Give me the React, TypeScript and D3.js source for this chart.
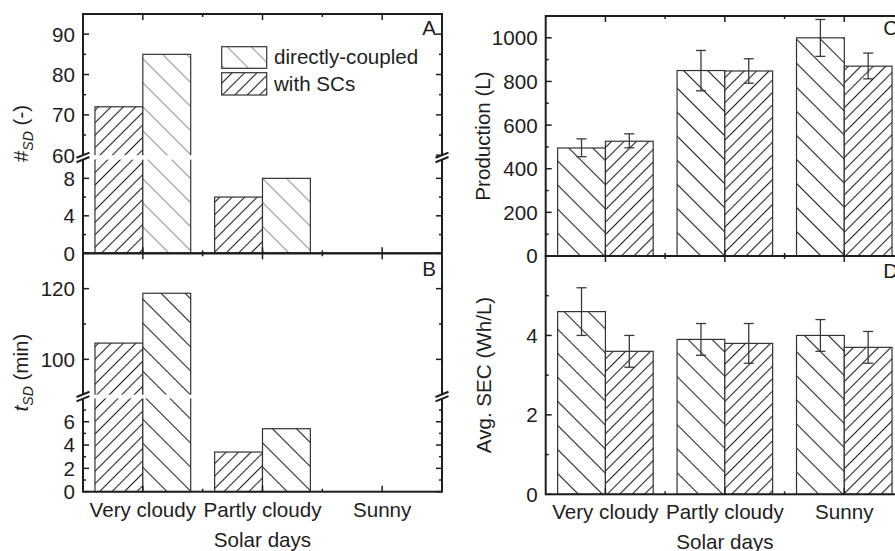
import React from "react";
import * as d3 from "d3";

const categories = ["Very cloudy", "Partly cloudy", "Sunny"];
// Panel A: number of shutdowns
const countSC = [72, 6, 0];
const countDC = [85, 8, 0];
// Panel B: shutdown time (min)
const timeSC = [104.6, 3.4, 0];
const timeDC = [118.7, 5.4, 0];
// Panel C: production (L)
const prodDC = [495, 850, 1000];
const prodDCLow = [455, 757, 915];
const prodDCHigh = [537, 942, 1084];
const prodSC = [526, 848, 870];
const prodSCLow = [496, 792, 812];
const prodSCHigh = [560, 904, 930];
// Panel D: SEC (Wh/L)
const secDC = [4.6, 3.9, 4.0];
const secDCLow = [4.0, 3.5, 3.6];
const secDCHigh = [5.2, 4.3, 4.4];
const secSC = [3.6, 3.8, 3.7];
const secSCLow = [3.2, 3.3, 3.3];
const secSCHigh = [4.0, 4.3, 4.1];

const ticksAUpper = [60, 70, 80, 90];
const minorAUpper = [65, 75, 85, 95];
const ticksALower = [0, 4, 8];
const minorALower = [2, 6];
const ticksBUpper = [100, 120];
const minorBUpper = [110, 130];
const ticksBLower = [0, 2, 4, 6];
const minorBLower = [1, 3, 5, 7];
const ticksC = [0, 200, 400, 600, 800, 1000];
const minorC = [100, 300, 500, 700, 900, 1100];
const ticksD = [0, 2, 4];
const minorD = [1, 3, 5];

const FONT = "'Liberation Sans', Arial, Helvetica, sans-serif";
const INK = "#1e1e1e";
const FS = 20.6;

type Series = {
  values: number[];
  low?: number[];
  high?: number[];
  fill: string;
};

type Seg = { scale: d3.ScaleLinear<number, number>; major: number[]; minor: number[]; max: number };

function Panel(props: {
  x0: number;
  x1: number;
  top: number;
  bottom: number;
  lower: Seg;
  upper?: Seg;
  series: Series[];
  letter: string;
  letterY: number;
}) {
  const { x0, x1, top, bottom, lower, upper, series, letter, letterY } = props;
  const xs = d3.scaleLinear().domain([0.5, 3.5]).range([x0, x1]);
  const y = (v: number) => (upper && v > lower.max ? upper.scale(v) : lower.scale(v));
  const bw = 0.4;
  const els: React.ReactNode[] = [];

  // bars
  series.forEach((s, si) => {
    s.values.forEach((v, i) => {
      const c = i + 1;
      const xa = si === 0 ? xs(c - bw) : xs(c);
      const xb = si === 0 ? xs(c) : xs(c + bw);
      const yv = y(v);
      const y0 = lower.scale(0);
      if (v <= 0) return;
      els.push(
        <g key={`b${si}-${i}`}>
          <rect x={xa} y={yv} width={xb - xa} height={y0 - yv} fill="#fff" />
          <rect x={xa} y={yv} width={xb - xa} height={y0 - yv} fill={s.fill} stroke="#333" strokeWidth={1.2} />
        </g>
      );
    });
  });

  // gap for broken axis
  let gapTop = 0, gapBot = 0;
  if (upper) {
    gapTop = upper.scale(upper.scale.domain()[0]);
    gapBot = lower.scale(lower.max);
    els.push(<rect key="gap" x={x0 + 1} y={gapTop} width={x1 - x0 - 2} height={gapBot - gapTop} fill="#fff" />);
  }

  // error bars
  series.forEach((s, si) => {
    if (!s.low || !s.high) return;
    s.values.forEach((v, i) => {
      const c = i + 1;
      const xc = si === 0 ? xs(c - bw / 2) : xs(c + bw / 2);
      const yl = y(s.low![i]);
      const yh = y(s.high![i]);
      els.push(
        <g key={`e${si}-${i}`} stroke="#3a3a3a" strokeWidth={1.3}>
          <line x1={xc} x2={xc} y1={yl} y2={yh} />
          <line x1={xc - 5} x2={xc + 5} y1={yl} y2={yl} />
          <line x1={xc - 5} x2={xc + 5} y1={yh} y2={yh} />
        </g>
      );
    });
  });

  // frame
  els.push(<rect key="frame" x={x0} y={top} width={x1 - x0} height={bottom - top} fill="none" stroke={INK} strokeWidth={2} />);

  // y ticks
  const segs = upper ? [lower, upper] : [lower];
  segs.forEach((sg, k) => {
    sg.major.forEach((t) => {
      const yy = sg.scale(t);
      els.push(
        <g key={`ym${k}-${t}`} stroke={INK} strokeWidth={1.5}>
          <line x1={x0} x2={x0 + 6} y1={yy} y2={yy} />
          <line x1={x1} x2={x1 - 6} y1={yy} y2={yy} />
        </g>
      );
      els.push(
        <text key={`yl${k}-${t}`} x={x0 - 8} y={yy} dy="0.36em" textAnchor="end" fontSize={FS} fill={INK}>
          {t}
        </text>
      );
    });
    sg.minor.forEach((t) => {
      const yy = sg.scale(t);
      els.push(
        <g key={`yn${k}-${t}`} stroke={INK} strokeWidth={1.5}>
          <line x1={x0} x2={x0 + 3} y1={yy} y2={yy} />
          <line x1={x1} x2={x1 - 3} y1={yy} y2={yy} />
        </g>
      );
    });
  });

  // x ticks (top and bottom, inward)
  [1, 2, 3, 1.5, 2.5].forEach((t) => {
    const len = Number.isInteger(t) ? 6 : 3;
    const xx = xs(t);
    els.push(
      <g key={`xt${t}`} stroke={INK} strokeWidth={1.5}>
        <line x1={xx} x2={xx} y1={top} y2={top + len} />
        <line x1={xx} x2={xx} y1={bottom} y2={bottom - len} />
      </g>
    );
  });

  // break marks
  if (upper) {
    const yc = (gapTop + gapBot) / 2;
    [x0, x1].forEach((bx, k) => {
      const d = 2.2, w = 6.5, r = 2.6;
      els.push(
        <g key={`brk${k}`}>
          <polygon
            points={`${bx - w},${yc - d + r} ${bx + w},${yc - d - r} ${bx + w},${yc + d - r} ${bx - w},${yc + d + r}`}
            fill="#fff"
          />
          <line x1={bx - w} y1={yc - d + r} x2={bx + w} y2={yc - d - r} stroke={INK} strokeWidth={2} />
          <line x1={bx - w} y1={yc + d + r} x2={bx + w} y2={yc + d - r} stroke={INK} strokeWidth={2} />
        </g>
      );
    });
  }

  els.push(
    <text key="letter" x={x1 - 6} y={letterY} textAnchor="end" fontSize={FS} fill={INK}>
      {letter}
    </text>
  );

  return <g>{els}</g>;
}

function CategoryAxis(props: { x0: number; x1: number; y: number; titleY: number }) {
  const xs = d3.scaleLinear().domain([0.5, 3.5]).range([props.x0, props.x1]);
  return (
    <g fontSize={FS} fill={INK} textAnchor="middle">
      {categories.map((c, i) => (
        <text key={c} x={xs(i + 1)} y={props.y}>
          {c}
        </text>
      ))}
      <text x={xs(2)} y={props.titleY}>Solar days</text>
    </g>
  );
}

export default function App() {
  const LX0 = 83, LX1 = 442;
  const RX0 = 545.7, RX1 = 904;

  const aLower = { scale: d3.scaleLinear().domain([0, 10]).range([253.3, 159.6]), major: ticksALower, minor: minorALower, max: 10 };
  const aUpper = { scale: d3.scaleLinear().domain([60, 95]).range([155.2, 14]), major: ticksAUpper, minor: minorAUpper, max: 95 };
  const bLower = { scale: d3.scaleLinear().domain([0, 8]).range([491.7, 398.4]), major: ticksBLower, minor: minorBLower, max: 8 };
  const bUpper = { scale: d3.scaleLinear().domain([90, 130]).range([394.7, 253.3]), major: ticksBUpper, minor: minorBUpper, max: 130 };
  const cScale = { scale: d3.scaleLinear().domain([0, 1100]).range([256, 16]), major: ticksC, minor: minorC, max: 1100 };
  const dScale = { scale: d3.scaleLinear().domain([0, 6]).range([494.3, 256]), major: ticksD, minor: minorD, max: 6 };

  return (
    <svg
      width={895}
      height={551}
      viewBox="0 0 895 551"
      style={{ position: "absolute", left: 0, top: 0, background: "#fff" }}
      fontFamily={FONT}
    >
      <defs>
        <pattern id="hSC" patternUnits="userSpaceOnUse" width={8.8} height={8.8} patternTransform="rotate(45)">
          <line x1={4.4} y1={-1} x2={4.4} y2={9.8} stroke="#222" strokeWidth={1.1} />
        </pattern>
        <pattern id="hDC" patternUnits="userSpaceOnUse" width={17} height={17} patternTransform="rotate(-45)">
          <line x1={8.5} y1={-1} x2={8.5} y2={18} stroke="#222" strokeWidth={1.1} />
        </pattern>
        <pattern id="hDCg" patternUnits="userSpaceOnUse" width={17} height={17} patternTransform="rotate(-45)">
          <line x1={8.5} y1={-1} x2={8.5} y2={18} stroke="#9a9a9a" strokeWidth={1.1} />
        </pattern>
      </defs>
      <rect x={0} y={0} width={895} height={551} fill="#fff" />

      <Panel
        x0={LX0} x1={LX1} top={14} bottom={253.3}
        lower={aLower} upper={aUpper}
        series={[{ values: countSC, fill: "url(#hSC)" }, { values: countDC, fill: "url(#hDCg)" }]}
        letter="A" letterY={35}
      />
      <Panel
        x0={LX0} x1={LX1} top={253.3} bottom={491.7}
        lower={bLower} upper={bUpper}
        series={[{ values: timeSC, fill: "url(#hSC)" }, { values: timeDC, fill: "url(#hDC)" }]}
        letter="B" letterY={276}
      />
      <Panel
        x0={RX0} x1={RX1} top={16} bottom={256}
        lower={cScale}
        series={[
          { values: prodDC, low: prodDCLow, high: prodDCHigh, fill: "url(#hDC)" },
          { values: prodSC, low: prodSCLow, high: prodSCHigh, fill: "url(#hSC)" },
        ]}
        letter="C" letterY={35}
      />
      <Panel
        x0={RX0} x1={RX1} top={256} bottom={494.3}
        lower={dScale}
        series={[
          { values: secDC, low: secDCLow, high: secDCHigh, fill: "url(#hDC)" },
          { values: secSC, low: secSCLow, high: secSCHigh, fill: "url(#hSC)" },
        ]}
        letter="D" letterY={278}
      />

      {/* legend */}
      <g>
        <rect x={221.7} y={46.7} width={45} height={21.6} fill="#fff" />
        <rect x={221.7} y={46.7} width={45} height={21.6} fill="url(#hDCg)" stroke="#333" strokeWidth={1.2} />
        <rect x={221.7} y={72.7} width={45} height={22.3} fill="#fff" />
        <rect x={221.7} y={72.7} width={45} height={22.3} fill="url(#hSC)" stroke="#333" strokeWidth={1.2} />
        <text x={274} y={64} fontSize={FS} fill={INK}>directly-coupled</text>
        <text x={274} y={91} fontSize={FS} fill={INK}>with SCs</text>
      </g>

      {/* y labels */}
      <text transform="translate(28,133.5) rotate(-90)" textAnchor="middle" fontSize={FS} fill={INK}>
        #<tspan fontStyle="italic" fontSize={14} dy={5}>SD</tspan>
        <tspan dy={-5}> (-)</tspan>
      </text>
      <text transform="translate(28,372.5) rotate(-90)" textAnchor="middle" fontSize={FS} fill={INK}>
        <tspan fontStyle="italic">t</tspan>
        <tspan fontStyle="italic" fontSize={14} dy={5}>SD</tspan>
        <tspan dy={-5}> (min)</tspan>
      </text>
      <text transform="translate(490,136) rotate(-90)" textAnchor="middle" fontSize={FS} fill={INK}>
        Production (L)
      </text>
      <text transform="translate(491,375) rotate(-90)" textAnchor="middle" fontSize={FS} fill={INK}>
        Avg. SEC (Wh/L)
      </text>

      <CategoryAxis x0={LX0} x1={LX1} y={516.5} titleY={547} />
      <CategoryAxis x0={RX0} x1={RX1} y={519} titleY={549} />
    </svg>
  );
}
